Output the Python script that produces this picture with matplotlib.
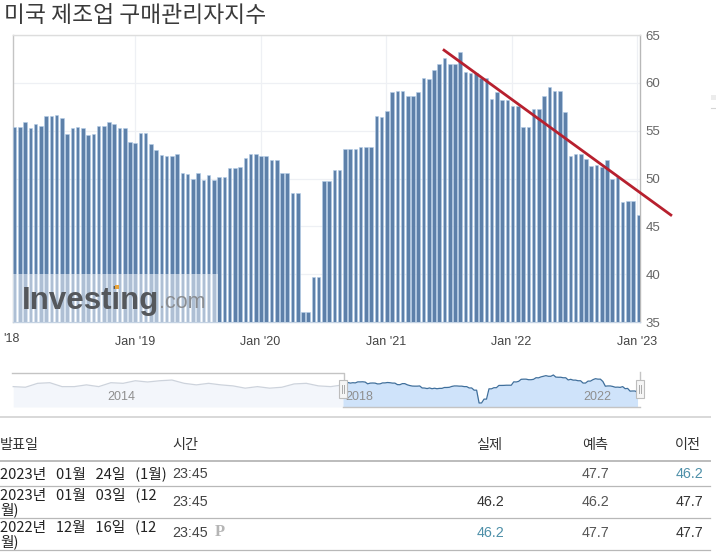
import numpy as np
import matplotlib
matplotlib.use("Agg")
import matplotlib.pyplot as plt
from matplotlib.patches import Rectangle

plt.rcParams["font.family"] = ["Noto Sans CJK KR", "DejaVu Sans"]

W, H = 716, 558

title = "미국 제조업 구매관리자지수"

# two readings per month, Jan 2018 to Jan 2023
pmi_values = [
    55.4, 55.4, 55.9, 55.3, 55.7, 55.5, 56.5, 56.5, 56.6, 56.3,
    54.6, 55.3, 55.4, 55.3, 54.5, 54.6, 55.5, 55.5, 55.9, 55.7,
    55.3, 55.3, 53.85, 53.75, 54.8, 54.8, 53.65, 52.95, 52.45, 52.35,
    52.35, 52.55, 50.6, 50.5, 50.0, 50.6, 49.85, 50.35, 49.85, 50.2,
    50.2, 51.05, 51.05, 51.25, 52.1, 52.55, 52.55, 52.35, 52.35, 51.9,
    51.9, 50.6, 50.6, 48.45, 48.45, 36.0, 36.0, 39.75, 39.75, 49.75,
    49.75, 50.85, 50.85, 53.05, 53.05, 53.1, 53.25, 53.25, 53.25, 56.55,
    56.4, 57.05, 59.0, 59.15, 59.15, 58.6, 58.6, 59.0, 60.55, 60.4,
    61.35, 61.95, 62.55, 61.95, 61.95, 63.2, 61.15, 61.0, 61.0, 60.5,
    60.5, 58.35, 59.0, 58.2, 58.2, 57.6, 57.6, 55.35, 55.35, 57.25,
    57.25, 58.65, 59.6, 59.15, 59.15, 56.9, 52.3, 52.55, 52.55, 52.05,
    51.3, 51.4, 51.15, 51.9, 49.9, 50.15, 47.5, 47.65, 47.65, 46.2,
]

y_ticks = [35, 40, 45, 50, 55, 60, 65]
x_tick_pos = [22.9, 46.9, 70.8, 94.8, 118.8]
x_tick_labels = ["Jan '19", "Jan '20", "Jan '21", "Jan '22", "Jan '23"]

trend_x = [81.7, 125.4]
trend_y = [63.5, 46.1]

# navigator history before the selected window
history_years = np.linspace(2012.45, 2018.0, 28)
history_values = [
    51.9, 51.3, 55.1, 55.7, 51.9, 51.9, 53.6, 51.9, 55.7, 55.1,
    57.6, 56.4, 57.6, 58.3, 55.1, 53.6, 55.1, 53.6, 52.6, 50.4,
    51.9, 50.4, 51.3, 54.5, 55.1, 52.6, 51.9, 53.6,
]
nav_year_labels = ["2014", "2018", "2022"]

table_headers = ["발표일", "시간", "실제", "예측", "이전"]
table_dates = ["2023년   01월   24일   (1월)", "2023년   01월   03일   (12\n월)", "2022년   12월   16일   (12\n월)"]
table_times = ["23:45", "23:45", "23:45"]
table_actual = ["", "46.2", "46.2"]
table_forecast = ["47.7", "46.2", "47.7"]
table_previous = ["46.2", "47.7", "47.7"]


def px_axes(fig, left, top, right, bottom):
    return fig.add_axes([left / W, 1 - bottom / H, (right - left) / W, (bottom - top) / H])


fig = plt.figure(figsize=(W / 100, H / 100), dpi=100, facecolor="white")

# overlay in pixel units for title, table and odds and ends
page = fig.add_axes([0, 0, 1, 1])
page.set_xlim(0, W)
page.set_ylim(H, 0)
page.axis("off")
page.text(4, 15, title, fontsize=16.4, color="#3a3a3a", va="center", ha="left")

# main bars
ax = px_axes(fig, 13, 35, 640, 322)
ax.set_xlim(-0.32, 119.3)
ax.set_ylim(35, 65)
ax.bar(np.arange(len(pmi_values)), pmi_values, width=0.68, color="#5d80a9",
       edgecolor="#b4cde8", linewidth=0.4, zorder=3)
ax.set_yticks(y_ticks)
ax.set_xticks(x_tick_pos)
ax.set_xticklabels(x_tick_labels, fontfamily="Liberation Sans", fontsize=9, color="#444444")
ax.yaxis.tick_right()
for lab in ax.get_yticklabels():
    lab.set_fontfamily("Liberation Sans")
    lab.set_fontsize(9.5)
    lab.set_color("#666666")
ax.tick_params(axis="both", length=0)
ax.tick_params(axis="y", pad=4)
ax.tick_params(axis="x", pad=10)
ax.grid(True, color="#eef0f4", linewidth=0.9, zorder=0)
ax.set_axisbelow(True)
for side, col in [("left", "#c4c4c4"), ("right", "#b8b8b8"), ("top", "#dddddd"), ("bottom", "#c4d2e2")]:
    ax.spines[side].set_color(col)
    ax.spines[side].set_linewidth(1.0)

# watermark block
ax.add_patch(Rectangle((-0.32, 35), 39.2, 5.0, facecolor="white", alpha=0.5, edgecolor="none", zorder=4))
ax.plot(trend_x, trend_y, color="#b7202e", linewidth=2.0, clip_on=False, zorder=6, solid_capstyle="butt")

page.set_zorder(5)
page.patch.set_alpha(0)
page.text(3, 339.5, "'18", fontfamily="Liberation Sans", fontsize=9, color="#444444", ha="left", va="center")
page.text(22, 301, "Investing", fontfamily="Liberation Sans", fontsize=22.5, fontweight="bold",
          color="#55585c", va="center", ha="left")
page.text(159, 303, ".com", fontfamily="Liberation Sans", fontsize=15.5, color="#8a8d91",
          va="center", ha="left")
page.add_patch(Rectangle((115, 285), 4, 4, facecolor="#e8a33a", edgecolor="none", zorder=5))

# navigator
nav = px_axes(fig, 12, 372, 640, 407)
nav.set_xlim(2012.43, 2023.0)
nav.set_ylim(32.1, 66.1)
nav.axis("off")
nav_years = 2018.0 + np.arange(len(pmi_values)) / 24.0
nav.fill_between(history_years, history_values, 32.1, color="#f3f6fb", linewidth=0)
nav.plot(history_years, history_values, color="#cdd3dc", linewidth=0.9)
nav.fill_between(nav_years, pmi_values, 32.1, color="#cfe3fa", linewidth=0)
nav.plot(nav_years, pmi_values, color="#3f6f9c", linewidth=0.9)

page.text(121, 397.5, nav_year_labels[0], fontfamily="Liberation Sans", fontsize=9, color="#8f8f8f", ha="center", va="center")
page.text(359, 397.5, nav_year_labels[1], fontfamily="Liberation Sans", fontsize=9, color="#8f8f8f", ha="center", va="center")
page.text(597, 397.5, nav_year_labels[2], fontfamily="Liberation Sans", fontsize=9, color="#8f8f8f", ha="center", va="center")
page.plot([12, 343.5, 343.5], [372.5, 372.5, 381], color="#c4c4c4", linewidth=1)
page.plot([343, 640], [406.5, 406.5], color="#c4c4c4", linewidth=1)
page.plot([640, 640], [372, 381], color="#c4c4c4", linewidth=1)
for hx in [343, 640]:
    page.add_patch(Rectangle((hx - 4, 380), 8, 18, facecolor="#f6f6f6", edgecolor="#bdbdbd", linewidth=0.8, zorder=5))
    page.plot([hx - 1, hx - 1], [385, 393], color="#aaaaaa", linewidth=0.7, zorder=6)
    page.plot([hx + 1, hx + 1], [385, 393], color="#aaaaaa", linewidth=0.7, zorder=6)

# table
page.plot([0, 710], [416.5, 416.5], color="#d8d8d8", linewidth=1.4)
page.plot([0, 710], [460.5, 460.5], color="#bcbcbc", linewidth=1.4)
for ly in [485.5, 517.5, 549.5]:
    page.plot([0, 710], [ly, ly], color="#b8b8b8", linewidth=0.9)

header_x = [0, 172, 502, 608, 701]
header_ha = ["left", "left", "right", "right", "right"]
for hx, ha, txt in zip(header_x, header_ha, table_headers):
    page.text(hx, 445.5, txt, fontsize=10.2, fontweight="medium", color="#333333", ha=ha, va="center")

row_y = [474, 502, 534]
for i, yy in enumerate(row_y):
    page.text(0, yy, table_dates[i], fontsize=10.6, color="#222222", ha="left",
              va="center", linespacing=1.0)
    page.text(172, yy - (1 if i == 2 else 0), table_times[i], fontfamily="Liberation Sans", fontsize=10.3,
              color="#444444", ha="left", va="center")
    page.text(504, yy - (1 if i == 2 else 0), table_actual[i], fontfamily="Liberation Sans", fontsize=10.3,
              color="#333333" if i == 1 else "#4d8fa8", ha="right", va="center")
    page.text(609, yy - (1 if i == 2 else 0), table_forecast[i], fontfamily="Liberation Sans", fontsize=10.3,
              color="#555555", ha="right", va="center")
    page.text(703, yy - (1 if i == 2 else 0), table_previous[i], fontfamily="Liberation Sans", fontsize=10.3,
              color="#4d8fa8" if i == 0 else "#333333", ha="right", va="center")
page.text(215, 532, "P", fontfamily="Liberation Serif", fontsize=12, fontweight="bold", color="#b5b5b5",
          ha="left", va="center")

# stray marks at the right edge of the screenshot
page.add_patch(Rectangle((711, 95), 5, 5, facecolor="#ececec", edgecolor="none"))
page.plot([711, 716], [108, 108], color="#d5d5d5", linewidth=0.8)

fig.savefig("out.png", dpi=100)
